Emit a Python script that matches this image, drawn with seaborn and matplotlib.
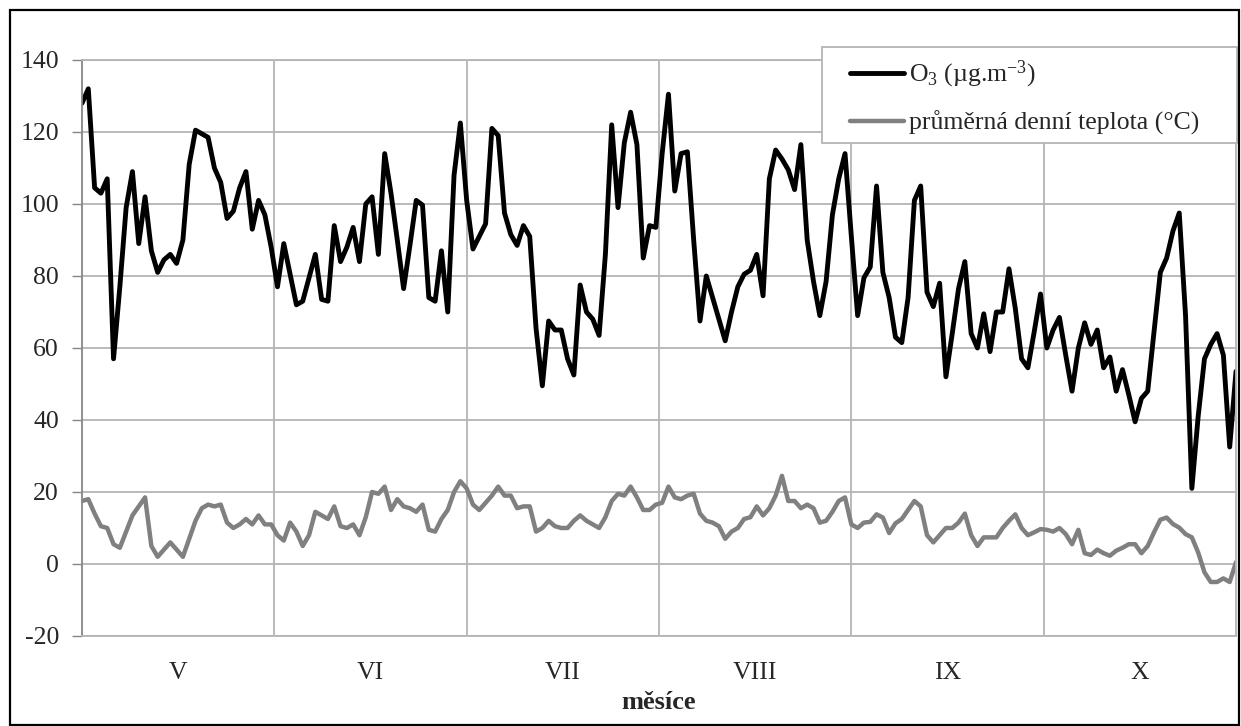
import numpy as np
import pandas as pd
import matplotlib
matplotlib.use('Agg')
import matplotlib.pyplot as plt
import seaborn as sns
from matplotlib.patches import Rectangle

months = ['V', 'VI', 'VII', 'VIII', 'IX', 'X']

o3_may = [128, 132, 104.5, 103, 107, 57, 77, 99, 109, 89, 102, 87, 81, 84.5, 86, 83.5,
          90, 111, 120.5, 119.5, 118.5, 110, 106, 96, 98, 104.5, 109, 93, 101, 97, 88]
o3_jun = [77, 89, 80.5, 72, 73, 79.5, 86, 73.5, 73, 94, 84, 88, 93.5, 84, 100, 102,
          86, 114, 103, 90, 76.5, 88.5, 101, 99.7, 74, 73, 87, 70, 108, 122.5]
o3_jul = [101, 87.5, 91, 94.5, 121, 119, 97.5, 91.5, 88.5, 94, 91, 65.5, 49.5, 67.5, 65, 65,
          57, 52.5, 77.5, 70, 68, 63.5, 86, 122, 99, 117, 125.5, 116.5, 85, 94, 93.5]
o3_aug = [114, 130.5, 103.6, 114, 114.5, 90, 67.5, 80, 74, 68, 62, 70, 77, 80.5, 81.6, 86,
          74.5, 107, 115, 112.5, 109.5, 104, 116.5, 90, 78.5, 69, 78.5, 97, 107, 114, 91]
o3_sep = [69, 79.5, 82.5, 105, 81, 74, 63, 61.5, 74, 101, 105, 75.5, 71.5, 78, 52, 64,
          76.5, 84, 64, 60, 69.5, 59, 70, 70, 82, 71, 57, 54.5, 64.5, 75]
o3_oct = [60, 65, 68.5, 58, 48, 60, 67, 61, 65, 54.5, 57.5, 48, 54, 47, 39.5, 46,
          48, 64.5, 81, 85, 92.5, 97.5, 69, 21, 41, 57, 61, 64, 58, 32.5, 53.5]

t_may = [17.5, 18, 14, 10.5, 10, 5.5, 4.5, 9, 13.5, 16, 18.5, 5, 2, 4, 6, 4,
         2, 7, 12, 15.5, 16.5, 16, 16.5, 11.5, 10, 11, 12.5, 11, 13.5, 11, 11]
t_jun = [8, 6.5, 11.5, 9, 5, 8, 14.5, 13.5, 12.5, 16, 10.5, 10, 11, 8, 13, 20,
         19.5, 21.5, 15, 18, 16, 15.5, 14.5, 16.5, 9.5, 9, 12.5, 15, 20, 23]
t_jul = [21, 16.5, 15, 17, 19, 21.5, 19, 19, 15.5, 16, 16, 9, 10, 12, 10.5, 10,
         10, 12, 13.5, 12, 11, 10, 13, 17.5, 19.5, 19, 21.5, 18.5, 15, 15, 16.5]
t_aug = [17, 21.5, 18.5, 18, 19, 19.5, 14, 12, 11.5, 10.5, 7, 9, 10, 12.5, 13, 16,
         13.5, 15.5, 19, 24.5, 17.5, 17.5, 15.5, 16.5, 15.5, 11.5, 12, 14.5, 17.5, 18.5, 11]
t_sep = [10, 11.5, 11.7, 13.8, 12.9, 8.6, 11.3, 12.5, 15, 17.5, 16, 8, 6, 8, 10, 10,
         11.5, 14, 8, 5, 7.4, 7.4, 7.4, 10, 12, 13.8, 10, 8, 8.8, 9.7]
t_oct = [9.5, 9, 10, 8.3, 5.5, 9.5, 3, 2.5, 4, 3, 2.3, 3.7, 4.5, 5.5, 5.5, 3,
         5, 8.8, 12.3, 12.9, 11.1, 10.1, 8.3, 7.4, 3.2, -2.3, -5, -5, -4, -5, 0.5]

o3 = o3_may + o3_jun + o3_jul + o3_aug + o3_sep + o3_oct
temp = t_may + t_jun + t_jul + t_aug + t_sep + t_oct

label_o3 = 'O$_3$ (µg.m$^{-3}$)'
label_t = 'průměrná denní teplota (°C)'

sns.set_theme(style='white')
plt.rcParams['font.family'] = ['Liberation Serif', 'DejaVu Serif']
plt.rcParams['mathtext.fontset'] = 'custom'
plt.rcParams['mathtext.rm'] = 'Liberation Serif'
plt.rcParams['mathtext.it'] = 'Liberation Serif:italic'
plt.rcParams['mathtext.bf'] = 'Liberation Serif:bold'
plt.rcParams['axes.unicode_minus'] = False

FS = 18.5
W, H = 1241, 726
fig = plt.figure(figsize=(W / 100, H / 100), dpi=100)
fig.patch.set_facecolor('white')
L, R, T, B = 82, 1236, 60, 636
ax = fig.add_axes([L / W, 1 - B / H, (R - L) / W, (B - T) / H])

n = len(o3)
df = pd.DataFrame({'day': np.arange(n), 'o3': o3, 'temp': temp})
sns.lineplot(data=df, x='day', y='o3', ax=ax, color='black', linewidth=3.5,
             label=label_o3, solid_joinstyle='round')
sns.lineplot(data=df, x='day', y='temp', ax=ax, color='#808080', linewidth=3.2,
             label=label_t, solid_joinstyle='round')

ax.set_xlim(0, n - 1)
ax.set_ylim(-20, 140)
ax.set_yticks(np.arange(-20, 141, 20))
step = (n - 1) / 6
ax.set_xticks([step * k for k in range(1, 6)])
ax.set_xticklabels([])
ax.set_xticks([step * (k + 0.5) for k in range(6)], minor=True)
ax.set_xticklabels(months, minor=True, fontsize=FS)
ax.tick_params(axis='x', which='both', length=0)
ax.tick_params(axis='x', which='minor', pad=19)
ax.tick_params(axis='y', length=7, width=1, color='#868686', pad=9.5, labelsize=FS,
               direction='out', left=True)
ax.grid(True, which='major', color='#b4b4b4', linewidth=1.3)
for s in ['top', 'right', 'bottom']:
    ax.spines[s].set_color('#b4b4b4')
    ax.spines[s].set_linewidth(1.3)
ax.spines['left'].set_color('#868686')
ax.spines['left'].set_linewidth(1.3)
ax.set_ylabel('')
ax.set_xlabel('měsíce', fontsize=19, fontweight='bold', labelpad=4.5)

# legend box (drawn separately so the inner padding matches the original)
box = Rectangle((822 / W, 1 - 143 / H), (1237 - 822) / W, (143 - 47) / H,
                transform=fig.transFigure, facecolor='white', edgecolor='#b4b4b4',
                linewidth=1.3, zorder=4, clip_on=False)
ax.add_patch(box)
leg = ax.legend(loc='upper left', bbox_to_anchor=(850 / W, 1 - 59 / H),
                bbox_transform=fig.transFigure, frameon=False, fontsize=FS,
                handlelength=2.1, handletextpad=0.2, labelspacing=0.8,
                borderpad=0, borderaxespad=0)
leg.set_zorder(5)

fig.add_artist(Rectangle((9.5 / W, 1 - 724.5 / H), (1239 - 9.5) / W, (724.5 - 9.5) / H,
                         transform=fig.transFigure, fill=False, edgecolor='black',
                         linewidth=1.6))

fig.savefig('out.png', dpi=100, facecolor='white')
